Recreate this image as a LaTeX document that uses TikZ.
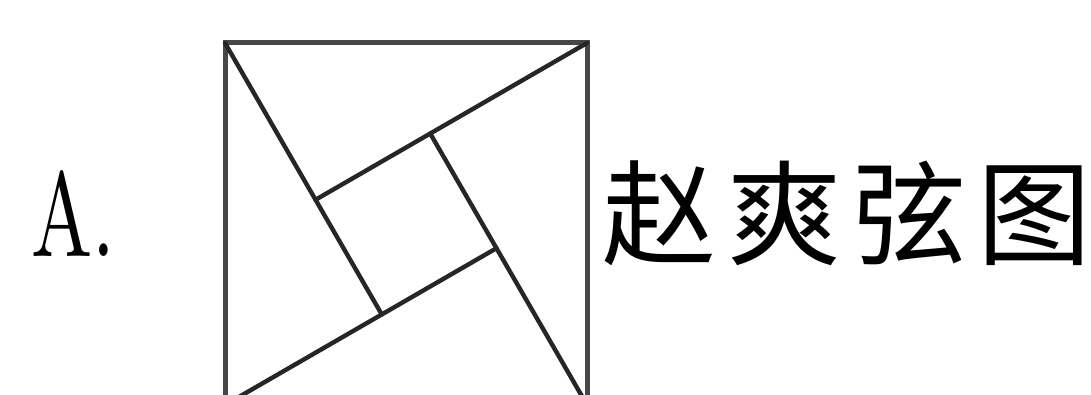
\documentclass[tikz,border=0pt]{standalone}
\usepackage{fontspec}
\newfontfamily\cjk{Noto Sans CJK SC}
\newfontfamily\lmten{lmroman10-regular.otf}
\begin{document}
\begin{tikzpicture}[x=1pt,y=-1pt,
  edge/.style={draw=black!85,line width=4.4pt,line cap=round,line join=round},
  frame/.style={draw=black!72,line width=5pt}]
\useasboundingbox (0,0) rectangle (1091,395);
\begin{scope}
\clip (0,0) rectangle (1091,395);
\coordinate (TL) at (225,43);
\coordinate (TR) at (587,43);
\coordinate (BR) at (587,405);
\coordinate (BL) at (225,405);
\coordinate (P1) at (315.5,199.8);
\coordinate (P4) at (430.2,133.5);
\coordinate (P3) at (496.5,248.2);
\coordinate (P2) at (381.8,314.5);
\draw[frame] (TL) -- (TR) -- (BR) -- (BL) -- cycle;
\draw[edge] (TL) -- (P2);
\draw[edge] (TR) -- (P1);
\draw[edge] (BR) -- (P4);
\draw[edge] (BL) -- (P3);
\end{scope}
\node[anchor=base west,inner sep=0pt,font=\lmten\fontsize{120}{130}\selectfont] (lab) at (31,256) {\scalebox{0.68}[1]{A.}};
\node[anchor=center,inner sep=0pt,font=\cjk\fontsize{114}{124}\selectfont] (cap) at (847,213) {赵\hspace{11pt}爽\hspace{11pt}弦\hspace{11pt}图};
\end{tikzpicture}
\end{document}
